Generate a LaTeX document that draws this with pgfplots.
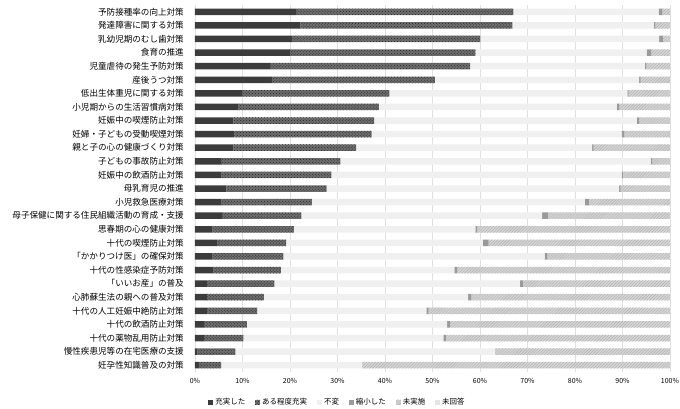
\documentclass[border=0pt]{standalone}
\usepackage{pgfplots}
\pgfplotsset{compat=1.18}
\usepackage{pgfplotstable}
\usepackage{fontspec}
\setmainfont{Noto Sans CJK JP}
\usetikzlibrary{patterns}
\definecolor{cA}{HTML}{3C3C3C}
\definecolor{cB}{HTML}{6E6E6E}
\definecolor{cC}{HTML}{F0F0F0}
\definecolor{cD}{HTML}{9A9A9A}
\definecolor{cE}{HTML}{D4D4D4}
\definecolor{cF}{HTML}{E4E4E4}
\definecolor{gridc}{HTML}{E0E0E0}

\pgfplotstableread{
y a b c d e f
0 21.3 45.7 30.6 0.8 1.6 0
1 22.2 44.6 29.8 0.3 3.1 0
2 20.4 39.7 37.6 0.8 1.5 0
3 20.0 39.0 36.1 0.9 4.0 0
4 15.8 42.1 36.8 0.3 5.0 0
5 16.2 34.3 43.0 0.3 6.2 0
6 9.9 31.0 50.1 0.3 8.7 0
7 9.2 29.5 50.1 0.5 10.7 0
8 8.1 29.6 55.3 0.5 6.5 0
9 8.3 28.9 52.6 0.6 9.6 0
10 8.1 25.8 49.7 0.3 16.1 0
11 5.5 25.1 65.3 0.4 3.7 0
12 5.6 23.1 61.1 0.3 9.9 0
13 6.6 21.1 61.6 0.3 10.4 0
14 5.6 19.0 57.5 0.8 17.1 0
15 5.7 16.7 50.7 1.2 25.7 0
16 3.7 17.1 38.2 0.4 40.6 0
17 4.6 14.6 41.4 1.2 38.2 0
18 3.7 14.9 55.0 0.6 25.8 0
19 3.9 14.2 36.5 0.6 44.8 0
20 2.5 14.2 51.7 0.6 31.0 0
21 2.5 12.0 43.0 0.7 41.8 0
22 2.5 10.6 35.6 0.5 50.8 0
23 1.9 9.0 42.2 0.6 46.3 0
24 1.9 8.3 42.1 0.5 47.2 0
25 0.5 8.0 54.7 0.0 36.8 0
26 0.8 4.7 29.7 0.0 64.8 0
}\datatable

\begin{document}
\begin{tikzpicture}
\begin{axis}[
  name=ax,
  scale only axis,
  width=475bp, height=367bp,
  xbar stacked,
  bar width=6.5bp,
  xmin=0, xmax=100,
  ymin=-0.5, ymax=26.5,
  y dir=reverse,
  xtick={0,10,...,100},
  xticklabels={0\%,10\%,20\%,30\%,40\%,50\%,60\%,70\%,80\%,90\%,100\%},
  ytick={0,...,26},
  yticklabels={予防接種率の向上対策,発達障害に関する対策,乳幼児期のむし歯対策,食育の推進,児童虐待の発生予防対策,産後うつ対策,低出生体重児に関する対策,小児期からの生活習慣病対策,妊娠中の喫煙防止対策,妊婦・子どもの受動喫煙対策,親と子の心の健康づくり対策,子どもの事故防止対策,妊娠中の飲酒防止対策,母乳育児の推進,小児救急医療対策,母子保健に関する住民組織活動の育成・支援,思春期の心の健康対策,十代の喫煙防止対策,「かかりつけ医」の確保対策,十代の性感染症予防対策,「いいお産」の普及,心肺蘇生法の親への普及対策,十代の人工妊娠中絶防止対策,十代の飲酒防止対策,十代の薬物乱用防止対策,慢性疾患児等の在宅医療の支援,妊孕性知識普及の対策},
  yticklabel style={font=\fontsize{8.6}{10}\selectfont, inner sep=0pt, xshift=-11bp},
  xticklabel style={font=\fontsize{7}{8}\selectfont, inner sep=0pt, yshift=-6bp},
  major tick length=0pt,
  axis line style={draw=none},
  xmajorgrids,
  grid style={gridc, line width=0.8pt},
  legend columns=-1,
  legend style={draw=none, fill=none, at={(0.30,-0.082)}, anchor=center,
    font=\fontsize{7.5}{9}\selectfont,
    /tikz/every even column/.append style={column sep=8bp}},
  legend image code/.code={\path[#1, draw=none] (0bp,-2.5bp) rectangle (5bp,2.5bp);},
]
\addplot[fill=cA, draw=none] table[x=a, y=y] {\datatable};
\addplot[fill=cB, draw=none, postaction={pattern=crosshatch dots, pattern color=black!85}] table[x=b, y=y] {\datatable};
\addplot[fill=cC, draw=none] table[x=c, y=y] {\datatable};
\addplot[fill=cD, draw=none] table[x=d, y=y] {\datatable};
\addplot[fill=cE, draw=none, postaction={pattern=north east lines, pattern color=black!30}] table[x=e, y=y] {\datatable};
\addplot[fill=cF, draw=none] table[x=f, y=y] {\datatable};
\legend{充実した,ある程度充実,不変,縮小した,未実施,未回答}
\end{axis}
\pgfresetboundingbox
\path[use as bounding box] ([xshift=-195bp,yshift=-37bp]ax.south west) rectangle ([xshift=10bp,yshift=5bp]ax.north east);
\end{tikzpicture}
\end{document}
